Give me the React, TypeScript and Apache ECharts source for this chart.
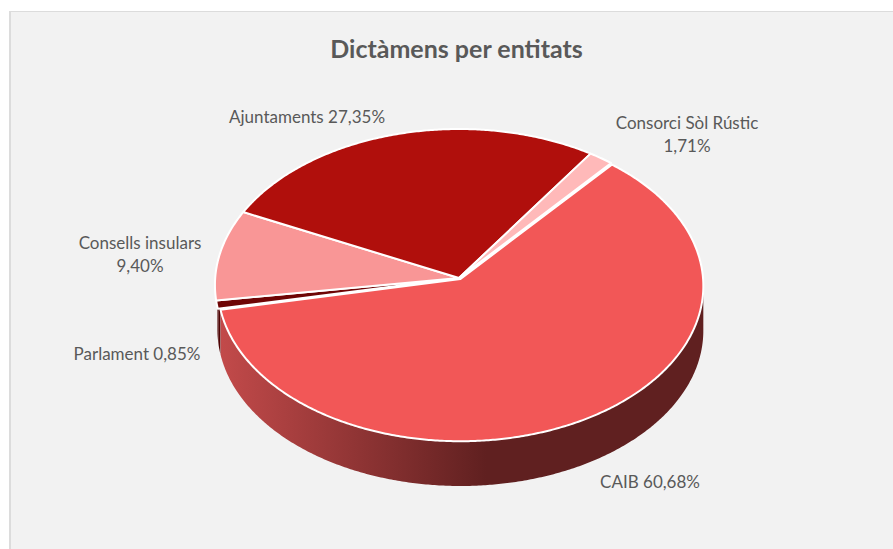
import React, { useEffect, useRef } from "react";
import * as echarts from "echarts";

const titleText = "Dictàmens per entitats";
const categories = ["CAIB", "Parlament", "Consells insulars", "Ajuntaments", "Consorci Sòl Rústic"];
const shares = [60.68, 0.85, 9.4, 27.35, 1.71];
const sliceColors = ["#f25757", "#6e0505", "#f99696", "#b00f0c", "#ffb9b9"];
const labelOnTwoLines = [false, false, true, false, true];

const FONT = "Lato, Carlito, 'Open Sans', sans-serif";
const LABEL_XY: [number, number][] = [
  [650, 481],
  [137, 353],
  [140, 254],
  [307, 116],
  [687, 134],
];

// Perspective pie geometry
const APEX_X = 459;
const APEX_Y = 278;
const SCALE_X = 243.8;
const SCALE_Y = 155.7;
const K = 0.045;
const DEPTH = 45;
const FIRST_ANGLE = 40.2;
const PARLAMENT_WALL_SHIFT = 2.5;
// The largest slice sits very slightly out of the pie in the reference
const LEAD_SLICE = { x: 1.5, y: 1, scaleX: 0.995, scaleY: 0.995, originX: APEX_X, originY: APEX_Y };

function rim(deg: number, drop = 0): [number, number] {
  const a = (deg * Math.PI) / 180;
  const u = Math.sin(a);
  const v = Math.cos(a);
  const w = 1 + K * v;
  return [APEX_X + (SCALE_X * u) / w, APEX_Y - (SCALE_Y * v) / w + drop];
}

function arc(from: number, to: number, drop = 0): [number, number][] {
  const n = Math.max(2, Math.ceil((to - from) / 0.5));
  const pts: [number, number][] = [];
  for (let i = 0; i <= n; i++) pts.push(rim(from + ((to - from) * i) / n, drop));
  return pts;
}

const starts: number[] = [];
const ends: number[] = [];
{
  const total = shares.reduce((s, x) => s + x, 0);
  let acc = FIRST_ANGLE;
  shares.forEach((s) => {
    starts.push(acc);
    acc += (s / total) * 360;
    ends.push(acc);
  });
}

const vExtreme = -K / (1 - K * K);
const thetaR = (Math.acos(vExtreme / (1 - K * vExtreme)) * 180) / Math.PI;
const thetaL = 360 - thetaR;

const fmt = (v: number) => v.toFixed(2).replace(".", ",") + "%";

export default function App() {
  const ref = useRef<HTMLDivElement>(null);
  useEffect(() => {
    document.body.style.margin = "0";
    const chart = echarts.init(ref.current!, null, { renderer: "svg" });
    const rows = categories.map((name, i) => ({ name, value: [shares[i], i] }));
    chart.setOption({
      animation: false,
      backgroundColor: "#ffffff",
      title: {
        text: titleText,
        left: 451.5,
        top: 30,
        textAlign: "center",
        textStyle: { fontFamily: FONT, fontSize: 25, fontWeight: "bold", color: "#595959" },
      },
      graphic: [
        { type: "rect", z: -10, shape: { x: 9, y: 11, width: 900, height: 560 }, style: { fill: "#f2f2f2" } },
        { type: "rect", z: -9, shape: { x: 9, y: 11, width: 2, height: 560 }, style: { fill: "#dcdcdc" } },
        { type: "rect", z: -9, shape: { x: 9, y: 11, width: 900, height: 1 }, style: { fill: "#dcdcdc" } },
      ],
      series: [
        {
          type: "custom",
          name: "walls",
          coordinateSystem: "none",
          silent: true,
          z: 2,
          data: rows,
          renderItem: (params: any) => {
            const i = params.dataIndex;
            const a = Math.max(starts[i], thetaR);
            const b = Math.min(ends[i], thetaL);
            if (b <= a) return { type: "group", children: [] };
            const top = arc(a, b);
            const bottom = arc(a, b, DEPTH).reverse();
            const fill =
              i === 0
                ? {
                    type: "linear",
                    x: 1,
                    y: 0,
                    x2: 0,
                    y2: 0,
                    colorStops: [
                      { offset: 0, color: "#602020" },
                      { offset: 0.45, color: "#602020" },
                      { offset: 1, color: "#c24a4a" },
                    ],
                  }
                : "#4e0404";
            const place = i === 0 ? LEAD_SLICE : { x: PARLAMENT_WALL_SHIFT };
            return {
              type: "polygon",
              ...place,
              shape: { points: top.concat(bottom) },
              style: { fill },
            };
          },
        },
        {
          type: "custom",
          name: "slices",
          coordinateSystem: "none",
          silent: true,
          z: 3,
          data: rows,
          renderItem: (params: any, api: any) => {
            const i = params.dataIndex;
            const pts = [[APEX_X, APEX_Y] as [number, number]].concat(arc(starts[i], ends[i]));
            const text =
              categories[i] + (labelOnTwoLines[i] ? "\n" : " ") + fmt(api.value(0));
            return {
              type: "group",
              children: [
                {
                  type: "polygon",
                  ...(i === 0 ? LEAD_SLICE : {}),
                  shape: { points: pts },
                  style: { fill: sliceColors[i], stroke: "#ffffff", lineWidth: 2, lineJoin: "round" },
                },
                {
                  type: "text",
                  x: LABEL_XY[i][0],
                  y: LABEL_XY[i][1],
                  style: {
                    text,
                    fill: "#595959",
                    fontFamily: FONT,
                    fontSize: 17,
                    lineHeight: 23,
                    align: "center",
                    verticalAlign: "middle",
                  },
                },
              ],
            };
          },
        },
      ],
    });
    return () => chart.dispose();
  }, []);
  return <div ref={ref} style={{ width: 893, height: 549, position: "absolute", left: 0, top: 0 }} />;
}
